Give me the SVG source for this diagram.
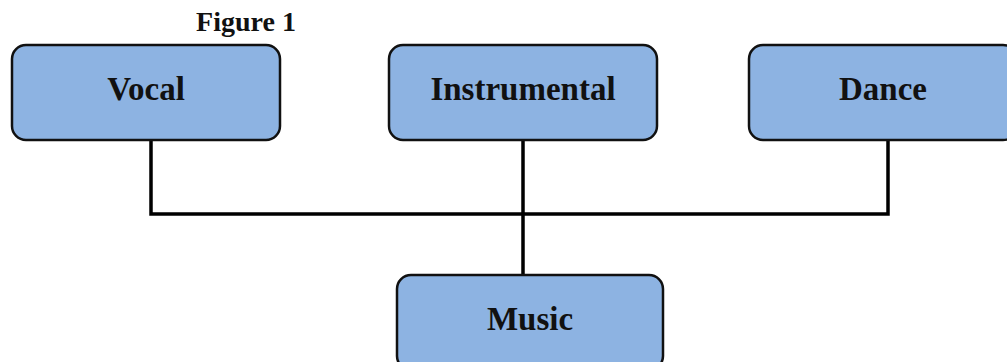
<svg xmlns="http://www.w3.org/2000/svg" width="1007" height="362" viewBox="0 0 1007 362">
<style>
.box{fill:#8db3e2;stroke:#111;stroke-width:2.5}
.lbl{font-family:"Liberation Serif",serif;font-weight:bold;font-size:33px;fill:#111;text-anchor:middle}
.conn{stroke:#000;stroke-width:3.5;fill:none}
</style>
<rect width="1007" height="362" fill="#fff"/>
<text x="246" y="31" style="font-family:'Liberation Serif',serif;font-weight:bold;font-size:28px;text-anchor:middle" fill="#111">Figure 1</text>
<g id="connectors">
<path class="conn" d="M151 140V214M523 140V276M888 140V214M149.25 214H889.75"/>
</g>
<g id="vocal"><rect class="box" x="12" y="45" width="268" height="95" rx="14"/><text class="lbl" x="146" y="100">Vocal</text></g>
<g id="instrumental"><rect class="box" x="389" y="45" width="268" height="95" rx="14"/><text class="lbl" x="523" y="100">Instrumental</text></g>
<g id="dance"><rect class="box" x="749" y="45" width="268" height="95" rx="14"/><text class="lbl" x="883" y="100">Dance</text></g>
<g id="music"><rect class="box" x="397" y="275" width="266" height="95" rx="14"/><text class="lbl" x="530" y="330">Music</text></g>
</svg>
